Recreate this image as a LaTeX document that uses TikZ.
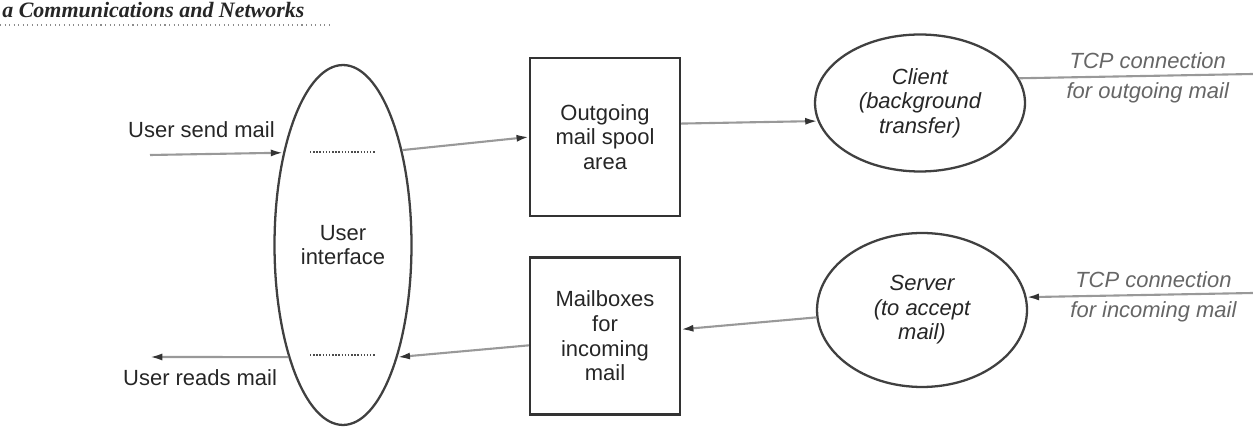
\documentclass[tikz,border=0pt]{standalone}
\usepackage{fontspec}
\setmainfont{Liberation Sans}
\newfontfamily\headfont{Liberation Serif}
\usetikzlibrary{shapes.geometric,arrows.meta}

\begin{document}
\begin{tikzpicture}[x=0.02cm,y=-0.02cm,
	font=\fontsize{12.5}{14}\selectfont, text=black!85,
	box/.style={draw=black!80, line width=1.3pt, minimum width=3cm, align=center},
	oval/.style={ellipse, draw=black!75, line width=1.3pt, inner sep=0pt, align=center},
	link/.style={draw=black!40, line width=1.2pt, -{Latex[length=7pt,width=4pt,black!80]}},
	tcp/.style={font=\fontsize{12.5}{14}\selectfont\itshape, text=black!60}]
\useasboundingbox (0,0) rectangle (1253,431);

% running head of the page
\node [anchor=base west, inner sep=0pt, font={\headfont\bfseries\itshape\fontsize{12.5}{15}\selectfont}] (head) at (2,18) {a Communications and Networks};
\draw [black!45, dotted, line width=.6pt] (0,25) -- (330,25);

% user side
\node [oval, minimum width=2.74cm, minimum height=7.2cm] (ui) at (343,245) {User\\interface};
\draw [black!70, densely dotted, line width=.8pt] (310,152) -- (375,152);
\draw [black!70, densely dotted, line width=.8pt] (310,355) -- (375,355);

% spool areas
\node [box, minimum height=3.16cm] (out) at (605,137) {Outgoing\\mail spool\\area};
\node [box, minimum height=3.14cm] (mbox) at (605,336) {Mailboxes\\for\\incoming\\mail};

% transfer processes
\node [oval, minimum width=4.2cm, minimum height=2.74cm, font=\fontsize{12.5}{14}\selectfont\itshape] (cli) at (920,103) {Client\\(background\\transfer)};
\node [oval, minimum width=4.2cm, minimum height=3.08cm, font=\fontsize{12.5}{14}\selectfont\itshape] (srv) at (922,310) {Server\\(to accept\\mail)};

\coordinate (send) at (150,155);
\coordinate (read) at (150,357);
\coordinate (tcpout) at (1253,74);
\coordinate (tcpin) at (1253,293);

\node [anchor=base west] (sendlab) at (122,138) {User send mail};
\node [anchor=base west] (readlab) at (117,386) {User reads mail};

\draw [link] (send) -- (ui.123);
\draw [link] (ui.58) -- (out.west);
\draw [link] (out.10) -- (cli.190);
\draw [link, -] (cli.14) -- (tcpout)
	node [tcp, pos=.55, above] {TCP connection}
	node [tcp, pos=.55, below] {for outgoing mail};
\draw [link] (tcpin) -- (srv.7)
	node [tcp, pos=.44, above] {TCP connection}
	node [tcp, pos=.44, below] {for incoming mail};
\draw [link] (srv.184) -- (mbox.5);
\draw [link] (mbox.187) -- (ui.296);
\draw [link] (ui.244) -- (read);
\end{tikzpicture}
\end{document}
